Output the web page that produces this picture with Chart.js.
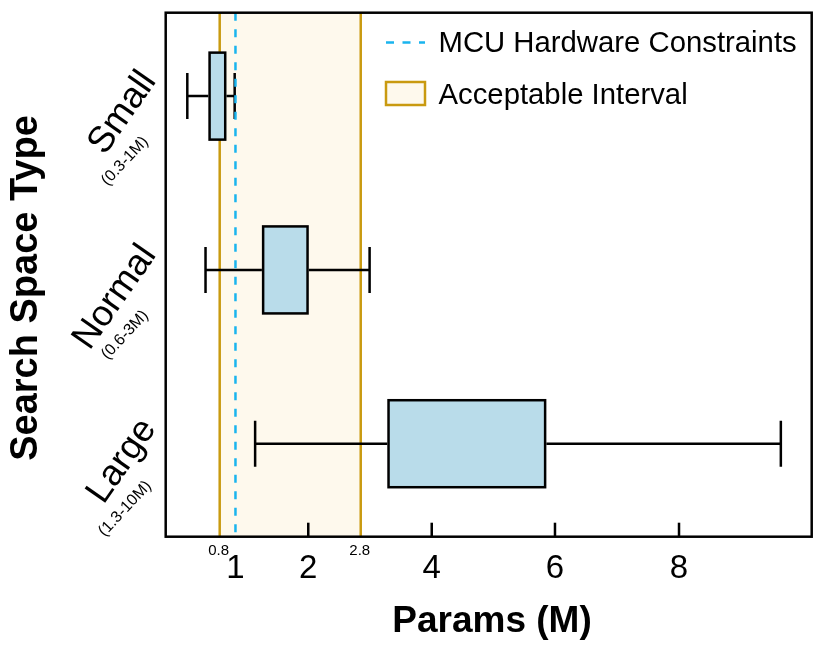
<!DOCTYPE html>
<html><head><meta charset="utf-8">
<script src="https://cdn.jsdelivr.net/npm/chart.js@4.4.0/dist/chart.umd.min.js"></script>
<style>html,body{margin:0;padding:0;background:#fff}#wrap{width:832px;height:647px}</style>
</head><body><div id="wrap"><canvas id="c" width="832" height="647"></canvas></div>
<script>
// ---- data ----
const categories = ['Small', 'Normal', 'Large'];
const categoryRanges = ['(0.3-1M)', '(0.6-3M)', '(1.3-10M)'];
const categoryPositions = [3, 2, 1];
const whiskerMin = [0.32, 0.59, 1.27];
const boxQ1 = [0.65, 1.38, 3.27];
const boxQ3 = [0.87, 1.99, 5.84];
const whiskerMax = [0.99, 2.95, 9.65];
const xTickValues = [1, 2, 4, 6, 8];
const mcuConstraint = 1.0;
const acceptableInterval = [0.8, 2.8];
const xTitle = 'Params (M)';
const yTitle = 'Search Space Type';
const legendLabels = ['MCU Hardware Constraints', 'Acceptable Interval'];

// ---- x scale shape (non-uniform axis, as in the original figure) ----
const xKnotValues = [0, 0.8, 1, 2, 2.8, 4, 6, 8, 10.15];
const xKnotFractions = [0, 0.0836, 0.1080, 0.2207, 0.3019, 0.4118, 0.6026, 0.7946, 1];
function interp(v, xs, ys) {
  let i = 1;
  while (i < xs.length - 1 && v > xs[i]) i++;
  return ys[i - 1] + (v - xs[i - 1]) * (ys[i] - ys[i - 1]) / (xs[i] - xs[i - 1]);
}
class PiecewiseScale extends Chart.LinearScale {
  getPixelForValue(value) {
    if (value === null || value === undefined || isNaN(value)) return NaN;
    return this.getPixelForDecimal(interp(value, xKnotValues, xKnotFractions));
  }
  getValueForPixel(pixel) {
    return interp(this.getDecimalForPixel(pixel), xKnotFractions, xKnotValues);
  }
}
PiecewiseScale.id = 'piecewise';
PiecewiseScale.defaults = Chart.LinearScale.defaults;
Chart.register(PiecewiseScale);

const FONT = '"Liberation Sans", Arial, Helvetica, sans-serif';
const BOX_FILL = '#b9dcea';
const SHADE = '#fef9ed';
const GOLD = '#c99a10';
const CYAN = '#1ab4ee';

const boxPlugin = {
  id: 'boxExtras',
  beforeDatasetsDraw(chart) {
    const ctx = chart.ctx, a = chart.chartArea, xS = chart.scales.x;
    const x0 = xS.getPixelForValue(acceptableInterval[0]);
    const x1 = xS.getPixelForValue(acceptableInterval[1]);
    ctx.save();
    ctx.fillStyle = SHADE;
    ctx.fillRect(x0, a.top, x1 - x0, a.bottom - a.top);
    ctx.strokeStyle = GOLD; ctx.lineWidth = 2.5;
    [x0, x1].forEach(x => { ctx.beginPath(); ctx.moveTo(x, a.top); ctx.lineTo(x, a.bottom); ctx.stroke(); });
    ctx.restore();
  },
  afterDatasetsDraw(chart) {
    const ctx = chart.ctx, a = chart.chartArea, xS = chart.scales.x, yS = chart.scales.y;
    ctx.save();
    // box outlines
    ctx.strokeStyle = '#000'; ctx.lineWidth = 2.5;
    chart.getDatasetMeta(0).data.forEach(el => {
      const p = el.getProps(['x', 'base', 'y', 'height'], true);
      ctx.strokeRect(Math.min(p.x, p.base), p.y - p.height / 2, Math.abs(p.x - p.base), p.height);
    });
    // whiskers
    categories.forEach((c, i) => {
      const y = yS.getPixelForValue(categoryPositions[i]);
      const xmin = xS.getPixelForValue(whiskerMin[i]);
      const xq1 = xS.getPixelForValue(boxQ1[i]);
      const xq3 = xS.getPixelForValue(boxQ3[i]);
      const xmax = xS.getPixelForValue(whiskerMax[i]);
      ctx.beginPath();
      ctx.moveTo(xmin, y); ctx.lineTo(xq1 - 1.25, y);
      ctx.moveTo(xq3 + 1.25, y); ctx.lineTo(xmax, y);
      ctx.moveTo(xmin, y - 23); ctx.lineTo(xmin, y + 23);
      ctx.moveTo(xmax, y - 23); ctx.lineTo(xmax, y + 23);
      ctx.stroke();
    });
    // MCU dashed line
    const xm = xS.getPixelForValue(mcuConstraint);
    ctx.strokeStyle = CYAN; ctx.lineWidth = 2.5; ctx.setLineDash([8, 8.5]);
    ctx.beginPath(); ctx.moveTo(xm, a.top); ctx.lineTo(xm, a.bottom); ctx.stroke();
    ctx.setLineDash([]);
    // frame
    ctx.strokeStyle = '#000'; ctx.lineWidth = 2.5;
    ctx.strokeRect(a.left, a.top, a.right - a.left, a.bottom - a.top);
    // inward ticks
    xTickValues.forEach(v => {
      if (v === mcuConstraint) return;
      const x = xS.getPixelForValue(v);
      ctx.beginPath(); ctx.moveTo(x, a.bottom); ctx.lineTo(x, a.bottom - 14); ctx.stroke();
    });
    // interval labels
    ctx.fillStyle = '#000';
    ctx.font = '15px ' + FONT; ctx.textAlign = 'center'; ctx.textBaseline = 'alphabetic';
    acceptableInterval.forEach(v => ctx.fillText(String(v), xS.getPixelForValue(v) - 1, 555));
    // legend
    ctx.strokeStyle = CYAN; ctx.lineWidth = 2.5; ctx.setLineDash([8, 8.5]);
    ctx.beginPath(); ctx.moveTo(386, 42.5); ctx.lineTo(425, 42.5); ctx.stroke();
    ctx.setLineDash([]);
    ctx.fillStyle = SHADE; ctx.fillRect(386, 82, 39, 23);
    ctx.strokeStyle = GOLD; ctx.strokeRect(386, 82, 39, 23);
    ctx.fillStyle = '#000'; ctx.font = '29.3px ' + FONT; ctx.textAlign = 'left';
    ctx.fillText(legendLabels[0], 438.5, 52);
    ctx.fillText(legendLabels[1], 438.5, 104);
    // category labels
    categories.forEach((name, i) => {
      const cy = yS.getPixelForValue(categoryPositions[i]);
      ctx.save();
      ctx.font = '36.5px ' + FONT;
      ctx.translate(157, cy - 15); ctx.rotate(-55 * Math.PI / 180);
      ctx.textAlign = 'right'; ctx.textBaseline = 'alphabetic';
      ctx.fillText(name, 0, 0);
      ctx.restore();
      ctx.save();
      ctx.font = '16px ' + FONT;
      ctx.translate(125, cy + 65); ctx.rotate(-47 * Math.PI / 180);
      ctx.textAlign = 'center'; ctx.textBaseline = 'middle';
      ctx.fillText(categoryRanges[i], 0, 0);
      ctx.restore();
    });
    // axis titles
    ctx.font = 'bold 37px ' + FONT; ctx.textAlign = 'center'; ctx.textBaseline = 'alphabetic';
    ctx.fillText(xTitle, 492, 631.5);
    ctx.font = 'bold 38px ' + FONT;
    ctx.save(); ctx.translate(37, 288); ctx.rotate(-Math.PI / 2);
    ctx.fillText(yTitle, 0, 0); ctx.restore();
    ctx.restore();
  }
};

new Chart(document.getElementById('c'), {
  type: 'bar',
  data: {
    datasets: [{
      data: categories.map((c, i) => ({ x: [boxQ1[i], boxQ3[i]], y: categoryPositions[i] })),
      backgroundColor: BOX_FILL,
      borderWidth: 0,
      barThickness: 87
    }]
  },
  options: {
    indexAxis: 'y',
    responsive: false,
    animation: false,
    devicePixelRatio: 1,
    layout: { padding: { left: 165.7, right: 20.3, top: 12.7, bottom: 0 } },
    plugins: { legend: { display: false }, tooltip: { enabled: false } },
    scales: {
      x: {
        type: 'piecewise', min: 0, max: 10.15,
        grid: { display: false, drawTicks: false },
        border: { display: false },
        afterBuildTicks: s => { s.ticks = xTickValues.map(v => ({ value: v })); },
        afterFit: s => { s.height = 110.3; },
        ticks: { font: { size: 33, family: FONT }, color: '#000', padding: 12, maxRotation: 0, autoSkip: false }
      },
      y: { type: 'linear', min: 0.465, max: 3.48, offset: false, display: false }
    }
  },
  plugins: [boxPlugin]
});
</script></body></html>
